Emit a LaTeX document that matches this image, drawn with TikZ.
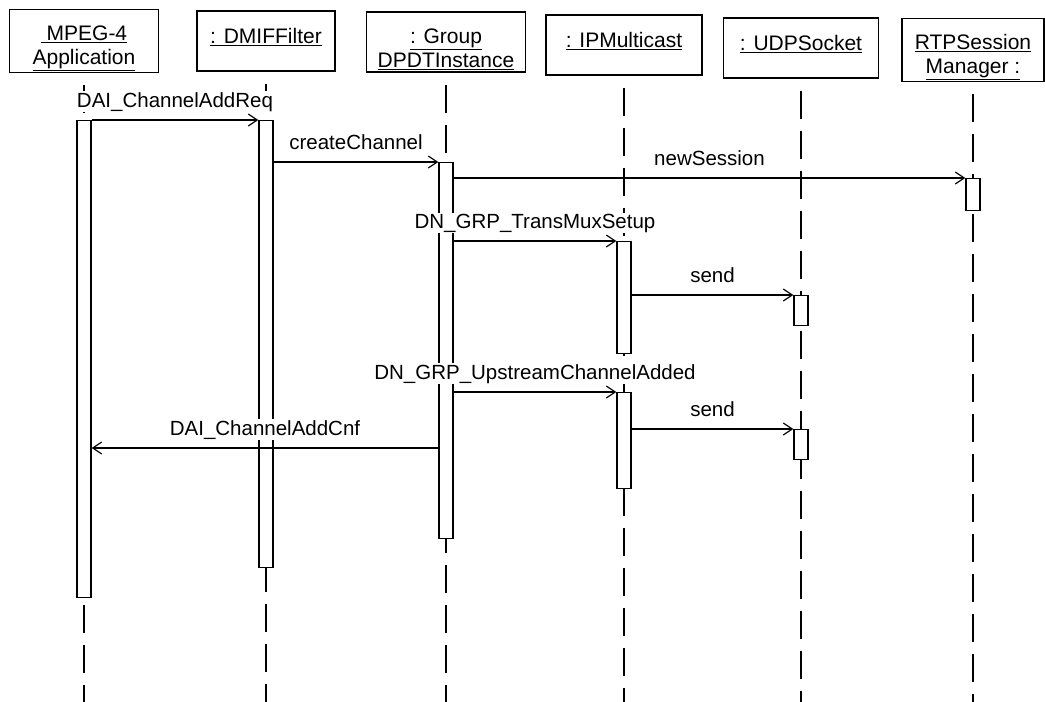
\documentclass[tikz,border=0pt]{standalone}
\usepackage{fontspec}
\setmainfont{Liberation Sans}
\usetikzlibrary{positioning,arrows.meta}

\begin{document}
\begin{tikzpicture}[x=1pt,y=-1pt,
  obj/.style={draw, line width=1.4pt, minimum height=60pt, align=center, inner sep=2pt, font=\fontsize{21}{24}\selectfont},
  actbar/.style={draw, fill=white, line width=1.3pt, minimum width=14pt, anchor=north, inner sep=0pt},
  lifeline/.style={line width=1.2pt, dash pattern=on 28pt off 12pt, dash phase=28pt},
  msg/.style={line width=1.2pt, -{Straight Barb[length=9pt,width=12pt]}},
  lbl/.style={fill=white, inner sep=1pt, anchor=base, yshift=13pt, font=\fontsize{20.5}{24}\selectfont}]
\useasboundingbox (0,0) rectangle (1045,702);

% objects
\newcommand{\toprule}{\rule{0pt}{29pt}}
\node[obj, minimum width=149pt] (app) at (84,41) {\toprule\underline{\ MPEG-4}\\\underline{Application}};
\node[obj, minimum width=138pt] (dmif) at (266,41) {\toprule\underline{: DMIFFilter}\\\mbox{}};
\node[obj, minimum width=159pt] (grp) at (446,42) {\toprule\underline{: Group}\\\underline{DPDTInstance}};
\node[obj, minimum width=156pt] (ipm) at (624,45) {\toprule\underline{: IPMulticast}\\\mbox{}};
\node[obj, minimum width=155pt] (udp) at (801,48) {\toprule\underline{: UDPSocket}\\\mbox{}};
\node[obj, minimum width=142pt] (rtp) at (973,50) {\toprule\underline{RTPSession}\\\underline{Manager :}};

\coordinate (bottom) at (0,702);
\coordinate (cnf) at (0,448);

\foreach \n in {app,dmif,grp,ipm,udp,rtp}
	\draw[lifeline] (\n.south) -- (\n.south |- bottom);

% activations
\node[actbar, minimum height=477pt] (appbar) at (84,120) {};
\node[actbar, minimum height=447pt] (dmifbar) at (266,120) {};
\node[actbar, minimum height=376pt] (grpbar) at (446,162) {};
\node[actbar, minimum height=32pt] (rtpbar) at (973,178) {};
\node[actbar, minimum height=112pt] (ipmbar1) at (624,241) {};
\node[actbar, minimum height=30pt] (udpbar1) at (801,295) {};
\node[actbar, minimum height=96pt] (ipmbar2) at (624,392) {};
\node[actbar, minimum height=30pt] (udpbar2) at (801,429) {};

% messages
\draw[msg] (appbar.north east) -- node[lbl]{DAI\_ChannelAddReq} (dmifbar.north west);
\draw[msg] (dmifbar.east |- grpbar.north) -- node[lbl]{createChannel} (grpbar.north west);
\draw[msg] (grpbar.east |- rtpbar.north) -- node[lbl]{newSession} (rtpbar.north west);
\draw[msg] (grpbar.east |- ipmbar1.north) -- node[lbl]{DN\_GRP\_TransMuxSetup} (ipmbar1.north west);
\draw[msg] (ipmbar1.east |- udpbar1.north) -- node[lbl]{send} (udpbar1.north west);
\draw[msg] (grpbar.east |- ipmbar2.north) -- node[lbl]{DN\_GRP\_UpstreamChannelAdded} (ipmbar2.north west);
\draw[msg] (ipmbar2.east |- udpbar2.north) -- node[lbl]{send} (udpbar2.north west);
\draw[msg] (grpbar.west |- cnf) -- node[lbl]{DAI\_ChannelAddCnf} (appbar.east |- cnf);

\end{tikzpicture}
\end{document}
